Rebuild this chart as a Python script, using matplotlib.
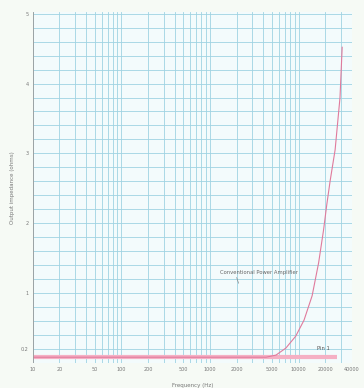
import matplotlib
matplotlib.use("Agg")
import matplotlib.pyplot as plt
from matplotlib.ticker import FixedLocator, NullFormatter

# Curva do amplificador convencional
freq_conv = [10, 100, 1000, 3000, 4300, 5550, 7170, 9260, 11500, 14200, 16800,
             19100, 20800, 22700, 25800, 29300, 31000]
imp_conv = [0.08, 0.08, 0.08, 0.08, 0.08, 0.11, 0.21, 0.38, 0.61, 0.96, 1.43,
            1.90, 2.27, 2.61, 3.05, 3.80, 4.52]

# Linha plana (Pin 1)
freq_pin = [10, 100, 1000, 10000, 27000]
imp_pin = [0.08, 0.08, 0.08, 0.08, 0.08]

x_ticks = [10, 20, 50, 100, 200, 500, 1000, 2000, 5000, 10000, 20000, 40000]
x_labels = ['10', '20', '50', '100', '200', '500', '1000', '2000', '5000', '10000', '20000', '40000']
y_ticks = [0.2, 1, 2, 3, 4, 5]
y_labels = ['0.2', '1', '2', '3', '4', '5']

fig = plt.figure(figsize=(3.64, 3.88), dpi=100, facecolor='#f6faf5')
ax = fig.add_axes([0.09, 0.065, 0.877, 0.905])
ax.set_facecolor('#f3fbfc')

ax.plot(freq_pin, imp_pin, color='#f5b0c4', lw=3.0, solid_capstyle='butt')
ax.plot(freq_conv, imp_conv, color='#e07a9c', lw=0.8)

ax.set_xscale('log')
ax.set_xlim(10, 40000)
ax.set_ylim(0, 5.03)

ax.xaxis.set_major_locator(FixedLocator(x_ticks))
ax.set_xticklabels(x_labels)
ax.xaxis.set_minor_locator(FixedLocator([m * 10 ** e for e in range(1, 5) for m in range(1, 10)]))
ax.xaxis.set_minor_formatter(NullFormatter())
ax.set_yticks(y_ticks)
ax.set_yticklabels(y_labels)
ax.yaxis.set_minor_locator(FixedLocator([i * 0.2 for i in range(26)]))

ax.grid(True, which='both', color='#9fd3e2', lw=0.6)
ax.set_axisbelow(True)
ax.tick_params(which='both', length=0, labelsize=3.5, colors='#777777', pad=3)
for s in ax.spines.values():
    s.set_visible(False)
ax.axvline(10, color='#9a9a9a', lw=0.6)

ax.set_xlabel('Frequency (Hz)', fontsize=4, color='#777777', labelpad=8)
ax.set_ylabel('Output impedance (ohms)', fontsize=4, color='#777777')

ax.text(1300, 1.27, 'Conventional Power Amplifier', fontsize=3.8, color='#666666')
ax.plot([2000, 2100], [1.22, 1.14], color='#888888', lw=0.5)
ax.text(16000, 0.18, 'Pin 1', fontsize=3.8, color='#555555')

plt.savefig('out.png', dpi=100, facecolor=fig.get_facecolor())
